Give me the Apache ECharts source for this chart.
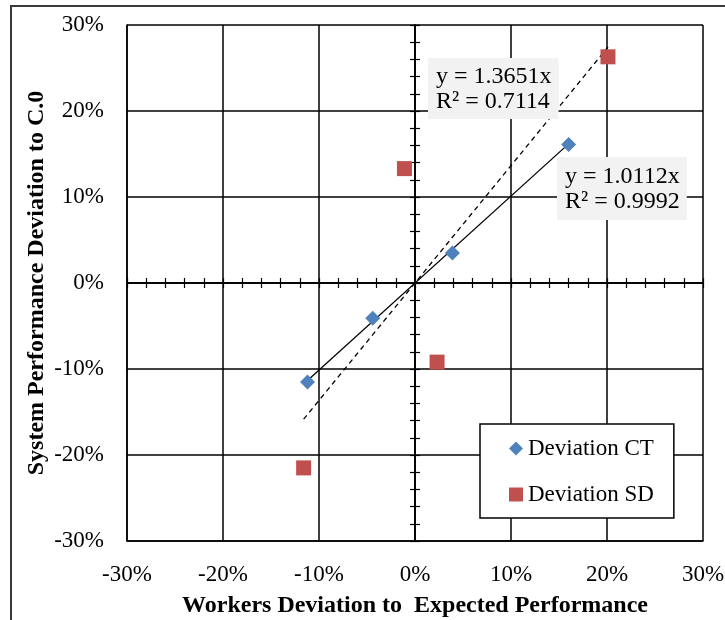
<!DOCTYPE html>
<html>
<head>
<meta charset="utf-8">
<script src="https://cdn.jsdelivr.net/npm/echarts@6/dist/echarts.min.js"></script>
<style>
  html, body { margin: 0; padding: 0; background: #fff; }
  #chart { width: 725px; height: 620px; }
</style>
</head>
<body>
<div id="chart"></div>
<script>
// values (fractions, axis shows percent)
const ctX = [-0.112, -0.044, 0.039, 0.160];
const ctY = [-0.115, -0.041, 0.035, 0.161];
const sdX = [-0.116, -0.011, 0.023, 0.201];
const sdY = [-0.215, 0.133, -0.092, 0.263];
const ctSlope = 1.0112;
const sdSlope = 1.3651;
const ctLabel = 'y = 1.0112x\nR² = 0.9992';
const sdLabel = 'y = 1.3651x\nR² = 0.7114';
const axisMin = -0.3, axisMax = 0.3;

const FONT = '"Liberation Serif", "Times New Roman", serif';

function pairs(xs, ys) {
  return xs.map((x, i) => [x, ys[i]]);
}
function trend(xs, slope) {
  const lo = Math.min(...xs), hi = Math.max(...xs);
  return [[lo, slope * lo], [hi, slope * hi]];
}
function pct(v) {
  const r = Math.round(v * 100);
  return (r === 0 ? 0 : r) + '%';
}

const chart = echarts.init(document.getElementById('chart'));

// axes drawn through the origin, one with ticks outside and one inside
function zeroX(inside) {
  return {
    type: 'value', min: axisMin, max: axisMax, interval: 0.02, position: 'bottom',
    axisLine: { show: true, onZero: true, onZeroAxisIndex: 0, lineStyle: { color: '#000', width: 1.5 } },
    axisTick: { show: true, inside: inside, length: 5, lineStyle: { color: '#000', width: 1.2 } },
    axisLabel: { show: false }, splitLine: { show: false }
  };
}
function zeroY(inside) {
  return {
    type: 'value', min: axisMin, max: axisMax, interval: 0.02, position: 'left',
    axisLine: { show: true, onZero: true, onZeroAxisIndex: 0, lineStyle: { color: '#000', width: 1.5 } },
    axisTick: { show: true, inside: inside, length: 5, lineStyle: { color: '#000', width: 1.2 } },
    axisLabel: { show: false }, splitLine: { show: false }
  };
}

chart.setOption({
  animation: false,
  textStyle: { fontFamily: FONT, color: '#000' },
  grid: { left: 127, top: 25, width: 576, height: 516, outerBoundsMode: 'none' },
  legend: {
    data: ['Deviation CT', 'Deviation SD'],
    orient: 'vertical',
    left: 480, top: 424,
    padding: [13, 20, 12, 29],
    itemGap: 23,
    itemWidth: 14, itemHeight: 14,
    backgroundColor: '#fff',
    borderColor: '#000', borderWidth: 1.5,
    textStyle: { fontFamily: FONT, fontSize: 23, color: '#000', lineHeight: 22 }
  },
  xAxis: [
    {
      type: 'value', min: axisMin, max: axisMax, interval: 0.1, position: 'bottom',
      name: 'Workers Deviation to  Expected Performance',
      nameLocation: 'middle', nameGap: 53,
      nameTextStyle: { fontFamily: FONT, fontSize: 24, fontWeight: 'bold', color: '#000' },
      axisLine: { show: true, onZero: false, lineStyle: { color: '#000', width: 1.5 } },
      axisTick: { show: false },
      axisLabel: { formatter: pct, margin: 22, fontFamily: FONT, fontSize: 23, color: '#000' },
      splitLine: { show: true, lineStyle: { color: '#000', width: 1.5 } }
    },
    zeroX(false),
    zeroX(true)
  ],
  yAxis: [
    {
      type: 'value', min: axisMin, max: axisMax, interval: 0.1, position: 'left',
      name: 'System Performance Deviation to C.0',
      nameLocation: 'middle', nameGap: 78, nameMoveOverlap: false,
      nameTextStyle: { fontFamily: FONT, fontSize: 24, fontWeight: 'bold', color: '#000' },
      axisLine: { show: true, onZero: false, lineStyle: { color: '#000', width: 1.5 } },
      axisTick: { show: false },
      axisLabel: { formatter: pct, margin: 23, fontFamily: FONT, fontSize: 23, color: '#000' },
      splitLine: { show: true, lineStyle: { color: '#000', width: 1.5 } }
    },
    zeroY(false),
    zeroY(true)
  ],
  graphic: [
    {
      type: 'rect', z: -10, silent: true,
      shape: { x: 11, y: 6, width: 760, height: 700 },
      style: { fill: 'none', stroke: '#3a3a3a', lineWidth: 2 }
    },
    {
      type: 'text', left: 428, top: 58, z: 100,
      style: {
        text: sdLabel, font: '24px ' + FONT, fill: '#000',
        lineHeight: 25, backgroundColor: '#f2f2f2', padding: [6, 7, 5, 8]
      }
    },
    {
      type: 'text', left: 557, top: 157, z: 100,
      style: {
        text: ctLabel, font: '24px ' + FONT, fill: '#000',
        lineHeight: 25, backgroundColor: '#f2f2f2', padding: [7, 7, 6, 8]
      }
    }
  ],
  series: [
    {
      name: 'CT trend', type: 'line', silent: true, showSymbol: false, z: 3,
      data: trend(ctX, ctSlope),
      lineStyle: { color: '#000', width: 1.3 }
    },
    {
      name: 'SD trend', type: 'line', silent: true, showSymbol: false, z: 3,
      data: trend(sdX, sdSlope),
      lineStyle: { color: '#000', width: 1.3, type: [5, 4] }
    },
    {
      name: 'Deviation CT', type: 'scatter', symbol: 'diamond', symbolSize: 15, z: 4,
      data: pairs(ctX, ctY),
      itemStyle: { color: '#4f81bd', opacity: 1 }
    },
    {
      name: 'Deviation SD', type: 'scatter', symbol: 'rect', symbolSize: 15, z: 4,
      data: pairs(sdX, sdY),
      itemStyle: { color: '#c0504d', opacity: 1 }
    }
  ]
});
</script>
</body>
</html>
